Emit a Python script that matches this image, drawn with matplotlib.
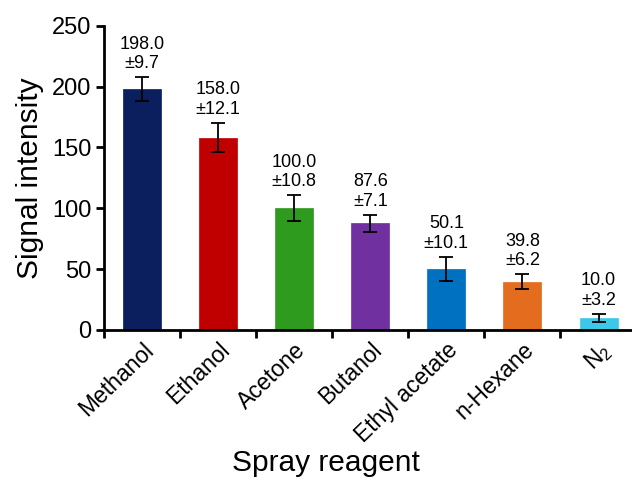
import matplotlib
matplotlib.use("Agg")
import matplotlib.pyplot as plt

categories = ["Methanol", "Ethanol", "Acetone", "Butanol", "Ethyl acetate", "n-Hexane", "N$_2$"]
values = [198.0, 158.0, 100.0, 87.6, 50.1, 39.8, 10.0]
errors = [9.7, 12.1, 10.8, 7.1, 10.1, 6.2, 3.2]
colors = ["#0b1f5e", "#c00000", "#2e9a1e", "#7030a0", "#0070c0", "#e36c1e", "#3ec8e8"]

plt.rcParams['font.family'] = ['Liberation Sans', 'DejaVu Sans']
plt.rcParams['mathtext.default'] = 'regular'

fig = plt.figure(figsize=(6.32, 4.8), dpi=100)
ax = fig.add_axes([0.1646, 0.3125, 0.8354, 0.634])
x = list(range(len(categories)))
ax.bar(x, values, width=0.5, color=colors, edgecolor=colors, linewidth=0.5, zorder=2)
ax.errorbar(x, values, yerr=errors, fmt='none', ecolor='black', elinewidth=1.3,
            capsize=5, capthick=1.3, zorder=3)
for xi, v, e in zip(x, values, errors):
    ax.text(xi, v + e + 4, f"{v:.1f}\n±{e}", ha='center', va='bottom', fontsize=13,
            linespacing=1.2)

ax.set_xlim(-0.5, 6.44)
ax.set_ylim(0, 250)
ax.set_yticks([0, 50, 100, 150, 200, 250])
ax.set_xticks([i - 0.5 for i in range(len(categories))])
ax.set_xticklabels([])
ax.set_xticks(x, minor=True)
ax.set_xticklabels(categories, minor=True, rotation=44, ha='right', rotation_mode='anchor',
                   fontsize=16.5)
ax.tick_params(axis='x', which='minor', length=0, pad=6)
ax.tick_params(axis='x', which='major', length=6, width=2)
ax.tick_params(axis='y', length=6, width=2, labelsize=17, pad=3)
for s in ['top', 'right']:
    ax.spines[s].set_visible(False)
for s in ['left', 'bottom']:
    ax.spines[s].set_linewidth(2)
ax.set_ylabel("Signal intensity", fontsize=21.5, labelpad=6)
fig.text(326 / 632, 1 - 471 / 480, "Spray reagent", fontsize=21.5, ha='center', va='baseline')

fig.savefig("out.png", dpi=100)
